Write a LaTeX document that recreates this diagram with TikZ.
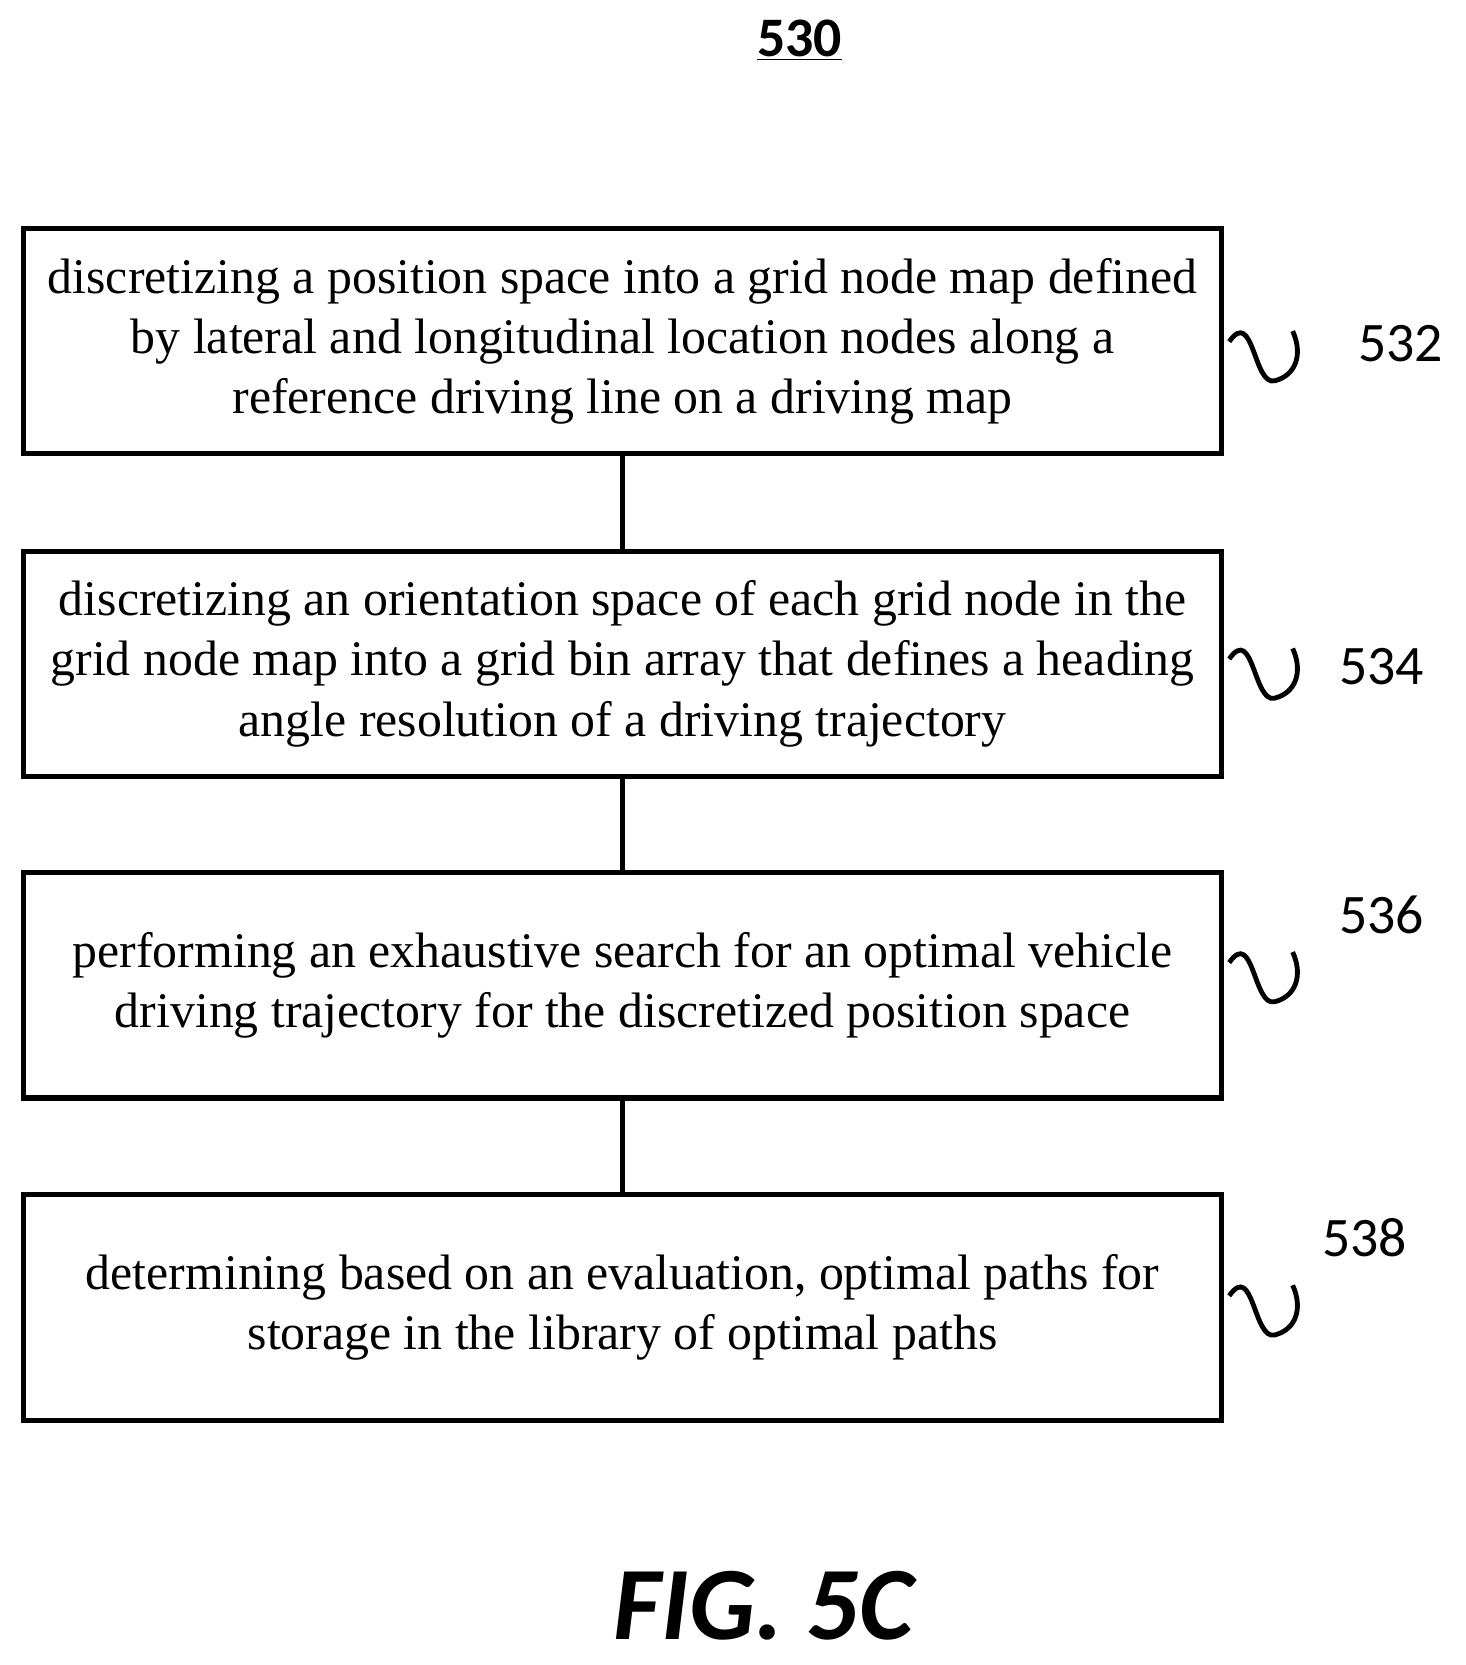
\documentclass[tikz,border=0pt]{standalone}
\usepackage{fontspec}
\setmainfont{Liberation Serif}
\newfontfamily\lab{Carlito}
\begin{document}
\begin{tikzpicture}[x=0.02cm,y=-0.02cm,
  stepbox/.style={draw,line width=2.8pt,minimum width=1133*0.02cm,minimum height=213*0.02cm,align=center,font=\fontsize{26.8}{32.4}\selectfont,inner sep=0pt},
  lbl/.style={font=\lab\fontsize{30}{30}\selectfont},
  conn/.style={line width=2.8pt},
  sq/.style={line width=2.6pt}]
\useasboundingbox (0,0) rectangle (1385,1574);
\node[font=\lab\bfseries\fontsize{30}{30}\selectfont] (t) at (756,38) {\underline{530}};
\node[stepbox] (b1) at (588.5,322.5) {discretizing a position space into a grid node map defined\\by lateral and longitudinal location nodes along a\\reference driving line on a driving map};
\node[stepbox] (b2) at (588.5,627.5) {discretizing an orientation space of each grid node in the\\grid node map into a grid bin array that defines a heading\\angle resolution of a driving trajectory};
\node[stepbox] (b3) at (588.5,931.5) {performing an exhaustive search for an optimal vehicle\\driving trajectory for the discretized position space};
\node[stepbox] (b4) at (588.5,1236) {determining based on an evaluation, optimal paths for\\storage in the library of optimal paths};
\draw[conn] (b1.south) -- (b2.north);
\draw[conn] (b2.south) -- (b3.north);
\draw[conn] (b3.south) -- (b4.north);
\foreach \n/\yy in {s1/335,s2/635,s3/922,s4/1237}{
  \draw[sq] (1162,\yy-12) .. controls (1185,\yy-45) and (1185,\yy+30) .. (1205,\yy+25)
     .. controls (1225,\yy+20) and (1232,\yy) .. (1222,\yy-22);
}
\node[lbl] (l1) at (1324,325) {532};
\node[lbl] (l2) at (1306,630) {534};
\node[lbl] (l3) at (1306,865) {536};
\node[lbl] (l4) at (1290,1170) {538};
\node[font=\lab\bfseries\itshape\fontsize{56}{56}\selectfont] (fig) at (722,1518) {FIG. 5C};
\end{tikzpicture}
\end{document}
